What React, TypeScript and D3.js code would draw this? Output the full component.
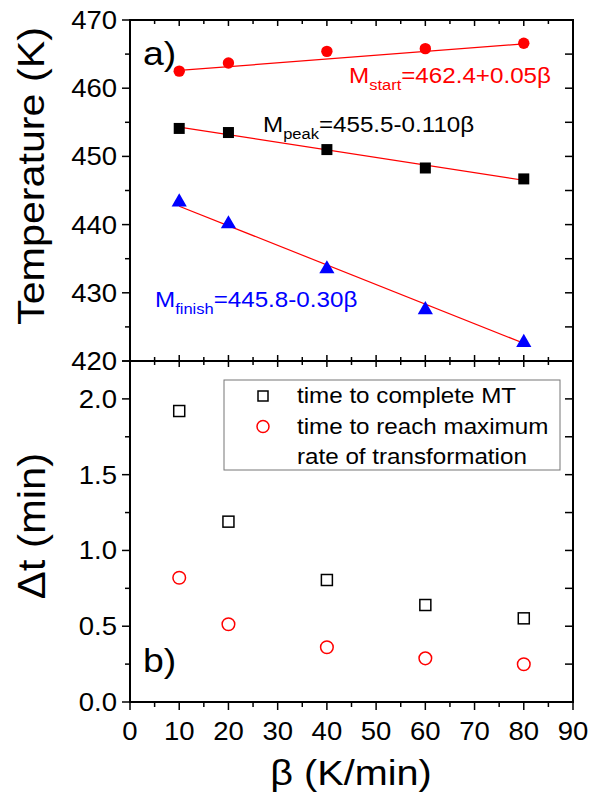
import React from "react";
import * as d3 from "d3";

const beta = [10, 20, 40, 60, 80];
const mStart = [462.5, 463.7, 465.4, 465.8, 466.6];
const mPeak = [454.1, 453.5, 451.0, 448.3, 446.7];
const mFinish = [443.3, 440.1, 433.5, 427.5, 422.7];
// fitted line values at beta = 10 and beta = 80
const fitBeta = [10, 80];
const fitStart = [462.6, 466.5];
const fitPeak = [454.3, 446.5];
const fitFinish = [442.7, 422.6];

const tComplete = [1.92, 1.19, 0.805, 0.64, 0.552];
const tMaxRate = [0.82, 0.513, 0.361, 0.288, 0.249];

const xTicks = [0, 10, 20, 30, 40, 50, 60, 70, 80, 90];
const tempTicks = [420, 430, 440, 450, 460, 470];
const dtTicks = [0, 0.5, 1.0, 1.5, 2.0];

const W = 592;
const H = 799;
const L = 130;
const R = 573;
const TOP = 20;
const MID = 361;
const BOT = 702;
const SX = 1.1;
const FONT = "'Liberation Sans', Arial, sans-serif";

function St({ x, y, anchor = "start", size, fill = "#000", children, rotate = 0 }: any) {
  return (
    <text
      transform={`translate(${x},${y}) rotate(${rotate}) scale(${SX},1)`}
      textAnchor={anchor}
      fontSize={size}
      fill={fill}
      fontFamily={FONT}
    >
      {children}
    </text>
  );
}

export default function App() {
  const x = d3.scaleLinear().domain([0, 90]).range([L, R]);
  const yT = d3.scaleLinear().domain([420, 470]).range([MID, TOP]);
  const yB = d3.scaleLinear().domain([0, 2.25]).range([BOT, MID]);
  const line = d3.line<number>();

  const majX = xTicks;
  const minX = d3.range(5, 90, 10);
  const minT = d3.range(425, 470, 10);
  const minB = [0.25, 0.75, 1.25, 1.75];
  const majB = [...dtTicks, 2.25];

  const tick = (key: string, x1: number, y1: number, x2: number, y2: number) => (
    <line key={key} x1={x1} y1={y1} x2={x2} y2={y2} stroke="#000" strokeWidth={1.5} />
  );

  const triangle = d3.symbol().type(d3.symbolTriangle).size(100)();

  return (
    <svg width={W} height={H} style={{ position: "absolute", left: 0, top: 0, background: "#fff" }}>
      <rect x={0} y={0} width={W} height={H} fill="#fff" />

      {/* ticks: x */}
      {majX.map((v) => tick("xb" + v, x(v), BOT, x(v), BOT + 8))}
      {minX.map((v) => tick("xbm" + v, x(v), BOT, x(v), BOT + 5))}
      {majX.map((v) => tick("xm1" + v, x(v), MID, x(v), MID + 6))}
      {minX.map((v) => tick("xm1m" + v, x(v), MID, x(v), MID + 4))}
      {majX.map((v) => tick("xm2" + v, x(v), MID, x(v), MID - 6))}
      {minX.map((v) => tick("xm2m" + v, x(v), MID, x(v), MID - 4))}
      {majX.map((v) => tick("xt" + v, x(v), TOP, x(v), TOP + 6))}
      {minX.map((v) => tick("xtm" + v, x(v), TOP, x(v), TOP + 4))}

      {/* ticks: top y */}
      {tempTicks.map((v) => tick("yl" + v, L, yT(v), L - 8, yT(v)))}
      {minT.map((v) => tick("ylm" + v, L, yT(v), L - 5, yT(v)))}
      {tempTicks.map((v) => tick("yr" + v, R, yT(v), R - 8, yT(v)))}
      {minT.map((v) => tick("yrm" + v, R, yT(v), R - 8, yT(v)))}

      {/* ticks: bottom y */}
      {majB.map((v) => tick("bl" + v, L, yB(v), L - 8, yB(v)))}
      {minB.map((v) => tick("blm" + v, L, yB(v), L - 5, yB(v)))}
      {majB.map((v) => tick("br" + v, R, yB(v), R - 8, yB(v)))}
      {minB.map((v) => tick("brm" + v, R, yB(v), R - 8, yB(v)))}

      {/* frames */}
      <rect x={L} y={TOP} width={R - L} height={MID - TOP} fill="none" stroke="#000" strokeWidth={2} />
      <rect x={L} y={MID} width={R - L} height={BOT - MID} fill="none" stroke="#000" strokeWidth={2} />

      {/* tick labels */}
      {tempTicks.map((v) => (
        <St key={"tl" + v} x={L - 13} y={yT(v) + 9} anchor="end" size={25}>
          {String(v)}
        </St>
      ))}
      {dtTicks.map((v) => (
        <St key={"dl" + v} x={L - 13} y={yB(v) + 9} anchor="end" size={25}>
          {v.toFixed(1)}
        </St>
      ))}
      {xTicks.map((v) => (
        <St key={"xl" + v} x={x(v)} y={740} anchor="middle" size={25}>
          {String(v)}
        </St>
      ))}

      {/* axis titles */}
      <St x={44} y={176} anchor="middle" size={37.5} rotate={-90}>
        Temperature (K)
      </St>
      <St x={45} y={526} anchor="middle" size={38} rotate={-90}>
        Δt (min)
      </St>
      <St x={351} y={785} anchor="middle" size={36}>
        β (K/min)
      </St>

      {/* fit lines */}
      {[fitStart, fitPeak, fitFinish].map((f, i) => (
        <path
          key={"fit" + i}
          d={line(fitBeta.map((b, j) => [x(b), yT(f[j])]) as any) || ""}
          stroke="#ff0000"
          strokeWidth={1.2}
          fill="none"
        />
      ))}

      {/* top markers */}
      {beta.map((b, i) => (
        <circle key={"ms" + i} cx={x(b)} cy={yT(mStart[i])} r={5.7} fill="#ff0000" />
      ))}
      {beta.map((b, i) => (
        <rect key={"mp" + i} x={x(b) - 5.5} y={yT(mPeak[i]) - 5.5} width={11} height={11} fill="#000" />
      ))}
      {beta.map((b, i) => (
        <path key={"mf" + i} d={triangle || ""} transform={`translate(${x(b)},${yT(mFinish[i])})`} fill="#0000ff" />
      ))}

      {/* bottom markers */}
      {beta.map((b, i) => (
        <rect
          key={"tc" + i}
          x={x(b) - 5.5}
          y={yB(tComplete[i]) - 5.5}
          width={11}
          height={11}
          fill="none"
          stroke="#000"
          strokeWidth={1.5}
        />
      ))}
      {beta.map((b, i) => (
        <circle key={"tm" + i} cx={x(b)} cy={yB(tMaxRate[i])} r={6.3} fill="none" stroke="#ff0000" strokeWidth={1.5} />
      ))}

      {/* annotations */}
      <St x={143} y={65} size={34}>a)</St>
      <St x={143} y={672} size={34}>b)</St>

      <St x={349} y={83} size={22} fill="#ff0000">
        <tspan>M</tspan>
        <tspan fontSize={15} dy={7}>start</tspan>
        <tspan dy={-7}>=462.4+0.05β</tspan>
      </St>
      <St x={263} y={132} size={22} fill="#000">
        <tspan>M</tspan>
        <tspan fontSize={15} dy={7}>peak</tspan>
        <tspan dy={-7}>=455.5-0.110β</tspan>
      </St>
      <St x={155} y={307} size={22} fill="#0000ff">
        <tspan>M</tspan>
        <tspan fontSize={15} dy={7}>finish</tspan>
        <tspan dy={-7}>=445.8-0.30β</tspan>
      </St>

      {/* legend */}
      <rect x={224} y={380} width={336} height={90} fill="#fff" stroke="#777" strokeWidth={1} />
      <rect x={258} y={391} width={10} height={10} fill="none" stroke="#000" strokeWidth={1.5} />
      <circle cx={263} cy={426.5} r={6} fill="none" stroke="#ff0000" strokeWidth={1.5} />
      <St x={297} y={403} size={22}>time to complete MT</St>
      <St x={297} y={434} size={22}>time to reach maximum</St>
      <St x={297} y={464} size={22}>rate of transformation</St>
    </svg>
  );
}
